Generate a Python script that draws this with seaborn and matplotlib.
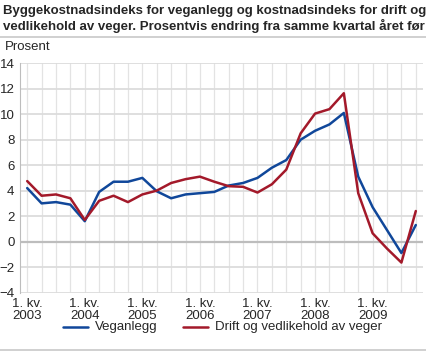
import pandas as pd
import matplotlib.pyplot as plt
import seaborn as sns

# Kvartal 2003K1 - 2009K4
years = [2003, 2004, 2005, 2006, 2007, 2008, 2009]
quarters = [f"{y}K{q}" for y in years for q in range(1, 5)]

veganlegg = [4.2, 3.0, 3.1, 2.9, 1.6, 3.9, 4.7, 4.7,
             5.0, 3.95, 3.4, 3.7, 3.8, 3.9, 4.4, 4.6,
             5.0, 5.8, 6.4, 8.0, 8.7, 9.2, 10.1, 5.1,
             2.7, 0.9, -0.9, 1.3]
drift = [4.75, 3.6, 3.7, 3.4, 1.7, 3.2, 3.6, 3.1,
         3.7, 4.0, 4.6, 4.9, 5.1, 4.7, 4.35, 4.3,
         3.85, 4.5, 5.65, 8.5, 10.05, 10.4, 11.65, 3.8,
         0.65, -0.55, -1.65, 2.4]

df = pd.DataFrame({"pos": range(len(quarters)), "kvartal": quarters,
                   "Veganlegg": veganlegg,
                   "Drift og vedlikehold av veger": drift})
long = df.melt(id_vars=["pos", "kvartal"], var_name="serie", value_name="prosent")

sns.set_style("white")
plt.rcParams['font.family'] = ['Liberation Sans', 'DejaVu Sans']

fig = plt.figure(figsize=(4.27, 3.53), dpi=100)
ax = fig.add_axes([20 / 427, 1 - 292.5 / 353, 403 / 427, (292.5 - 63.3) / 353])

# rutenett
for i in range(len(quarters)):
    ax.axvline(i, color="#e3e3e3", lw=0.9, zorder=0)
for v in range(-4, 15, 2):
    ax.axhline(v, color="#bdbdbd" if v == 0 else "#dcdcdc",
               lw=1.6 if v == 0 else 1.3, zorder=0)

sns.lineplot(data=long, x="pos", y="prosent", hue="serie",
             palette={"Veganlegg": "#10479a",
                      "Drift og vedlikehold av veger": "#a3192a"},
             lw=1.8, ax=ax, legend=False)

ax.set_xlim(-0.5, len(quarters) - 0.5)
ax.set_ylim(-4, 14)
ax.set_yticks(range(-4, 15, 2))
ax.set_xticks(range(0, len(quarters), 4))
ax.set_xticklabels([f"1. kv.\n{y}" for y in years], fontsize=9.5, linespacing=1.0)
ax.tick_params(axis="y", labelsize=9.5, length=3, color="#bdbdbd", pad=1)
ax.tick_params(axis="x", length=0, pad=4)
ax.set_xlabel("")
ax.set_ylabel("")
for s in ["top", "right", "bottom"]:
    ax.spines[s].set_visible(False)
ax.spines["left"].set_color("#bdbdbd")

# tittel og linjer
fig.text(0.006, 0.987, "Byggekostnadsindeks for veganlegg og kostnadsindeks for drift og\n"
         "vedlikehold av veger. Prosentvis endring fra samme kvartal året før",
         ha="left", va="top", fontsize=9.5, fontweight="bold", linespacing=1.25)
fig.add_artist(plt.Line2D([0, 1], [1 - 37 / 353] * 2, color="#c8c8c8", lw=1.2))
fig.add_artist(plt.Line2D([0, 1], [1 - 350 / 353] * 2, color="#c8c8c8", lw=1.2))
fig.text(5 / 427, 1 - 47 / 353, "Prosent", ha="left", va="center", fontsize=9.5)

# forklaring
ly = 1 - 327 / 353
fig.add_artist(plt.Line2D([63 / 427, 88 / 427], [ly, ly], color="#10479a", lw=1.8))
fig.text(95 / 427, ly, "Veganlegg", va="center", fontsize=9.5)
fig.add_artist(plt.Line2D([183 / 427, 208 / 427], [ly, ly], color="#a3192a", lw=1.8))
fig.text(215 / 427, ly, "Drift og vedlikehold av veger", va="center", fontsize=9.5)

fig.savefig("out.png", dpi=100)
